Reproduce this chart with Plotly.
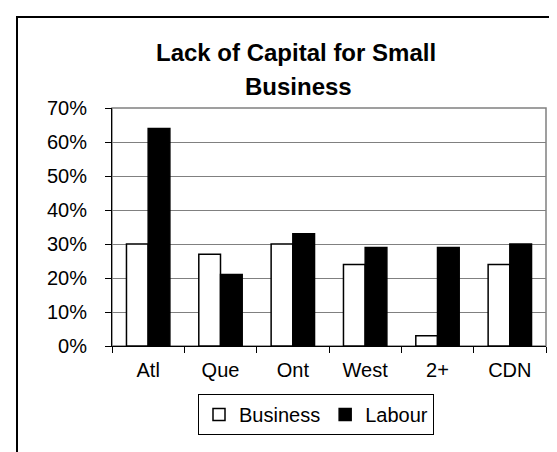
import plotly.graph_objects as go

regions = ["Atl", "Que", "Ont", "West", "2+", "CDN"]
business = [30, 27, 30, 24, 3, 24]
labour = [64, 21, 33, 29, 29, 30]

FONT = "Arial, Liberation Sans, sans-serif"

fig = go.Figure()
fig.add_trace(go.Bar(x=regions, y=business, name="Business",
                     marker=dict(color="white", line=dict(color="black", width=1.5))))
fig.add_trace(go.Bar(x=regions, y=labour, name="Labour",
                     marker=dict(color="black", line=dict(color="black", width=1.5))))

# plot area: x 104..538, y 100..338 (pixels)
L, T, R, B = 104, 100, 538, 338
W, H = 557, 452
pw, ph = R - L, B - T

def px(x):
    return (x - L) / pw

def py(y):
    return (B - y) / ph

fig.update_layout(
    width=W, height=H,
    margin=dict(l=L, r=W - R, t=T, b=H - B),
    paper_bgcolor="white", plot_bgcolor="white",
    font=dict(family=FONT, size=20, color="black"),
    barmode="group", bargap=0.4, bargroupgap=0,
    showlegend=True,
    legend=dict(orientation="h", x=px(190), xanchor="left", y=py(386), yanchor="top",
                bordercolor="black", borderwidth=1, bgcolor="white",
                font=dict(size=20), traceorder="normal", itemwidth=30),
)

fig.update_yaxes(range=[0, 70], dtick=10, ticksuffix="%", showgrid=True,
                 gridcolor="#808080", gridwidth=1, showline=True, linecolor="black",
                 linewidth=1, ticks="outside", ticklen=6, tickcolor="black",
                 ticklabelstandoff=14, zeroline=False, fixedrange=True)
fig.update_xaxes(showline=True, linecolor="black", linewidth=1, ticks="outside",
                 ticklen=6, tickcolor="black", tickson="boundaries", showgrid=False,
                 ticklabelstandoff=6, fixedrange=True)

# gray plot-area frame (top and right edges)
fig.add_shape(type="rect", xref="paper", yref="paper", x0=0, x1=1, y0=0, y1=1,
              line=dict(color="#808080", width=1.5), layer="below")
# outer chart border
fig.add_shape(type="rect", xref="paper", yref="paper", x0=px(9), x1=px(600),
              y0=py(500), y1=py(9), line=dict(color="black", width=2))

fig.add_annotation(text="<b>Lack of Capital for Small</b>", xref="paper", yref="paper",
                   x=px(288), y=py(45), xanchor="center", yanchor="middle",
                   showarrow=False, font=dict(size=24))
fig.add_annotation(text="<b>Business</b>", xref="paper", yref="paper",
                   x=px(290), y=py(78), xanchor="center", yanchor="middle",
                   showarrow=False, font=dict(size=24))

fig.write_html("out.html")
